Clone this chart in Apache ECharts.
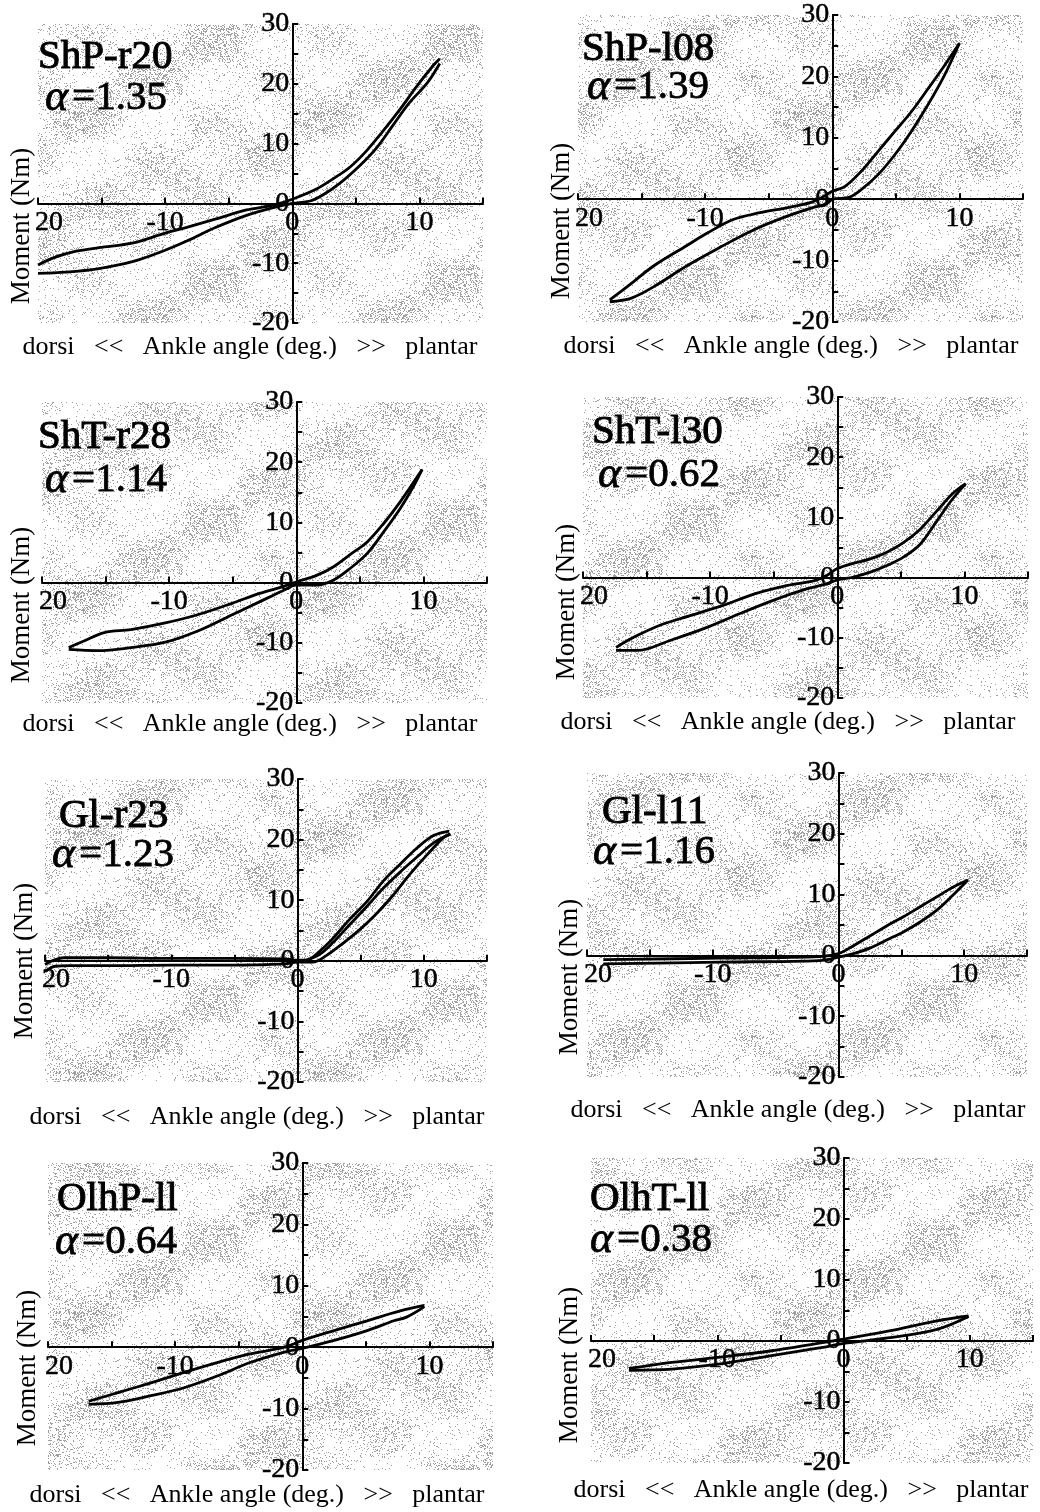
<!DOCTYPE html>
<html>
<head>
<meta charset="utf-8">
<script src="https://cdn.jsdelivr.net/npm/echarts@6/dist/echarts.min.js"></script>
<style>
  html, body { margin: 0; padding: 0; background: #fff; }
  #chart { width: 1040px; height: 1512px; }
</style>
</head>
<body>
<div id="chart"></div>
<script>
// panel labels
const panelNames = ['ShP-r20', 'ShP-l08', 'ShT-r28', 'ShT-l30', 'Gl-r23', 'Gl-l11', 'OlhP-ll', 'OlhT-ll'];
const alphaValues = ['1.35', '1.39', '1.14', '0.62', '1.23', '1.16', '0.64', '0.38'];

// tick labels (the -20 tick prints as "20" in the figure)
const xTickValues = [-20, -10, 0, 10];
const xTickTexts = ['20', '-10', '0', '10'];
const yTickValues = [-20, -10, 0, 10, 20, 30];
const yTickTexts = ['-20', '-10', '0', '10', '20', '30'];

// loops, [angle deg, moment Nm], each trace left -> right
const p1Top = [[-20, -10.3], [-18.8, -9.1], [-17.0, -8.0], [-15.2, -7.4], [-12.5, -6.6], [-10.2, -5.1], [-8.3, -4.0], [-6.0, -2.6], [-3.6, -1.1], [-1.5, -0.3], [0, 0.7], [1.9, 2.4], [3.2, 4.1], [4.5, 6.0], [5.8, 8.7], [7.1, 12.0], [8.5, 15.8], [9.8, 19.6], [11.1, 23.1], [11.6, 24.2]];
const p1Bottom = [[-20, -11.7], [-17.8, -11.5], [-15.2, -10.9], [-12.5, -9.7], [-10.2, -8.0], [-8.3, -6.3], [-6.0, -4.0], [-3.6, -2.0], [-1.5, -0.7], [0, 0], [1.4, 0.4], [2.4, 1.4], [3.7, 3.3], [5.3, 6.3], [6.6, 9.2], [7.9, 13.0], [9.2, 16.8], [10.6, 20.1], [11.6, 23.4]];

const p2Top = [[-17.5, -16.4], [-16.1, -14.2], [-14.0, -10.8], [-11.4, -7.5], [-9.9, -5.6], [-7.8, -3.3], [-5.7, -2.2], [-3.6, -1.4], [-1.8, -0.6], [-0.8, 0.3], [0, 1.3], [1.0, 2.1], [2.3, 4.6], [3.6, 7.8], [4.9, 11.0], [6.2, 14.2], [7.5, 17.9], [8.8, 21.7], [10.0, 25.4]];
const p2Bottom = [[-17.5, -16.7], [-15.8, -16.1], [-14.0, -14.2], [-11.4, -10.8], [-8.8, -7.8], [-6.2, -5.0], [-3.6, -2.8], [-1.6, -1.4], [-0.5, -0.8], [0, 0], [1.3, 0.3], [2.3, 1.6], [3.6, 4.0], [4.9, 7.2], [6.2, 11.0], [7.5, 15.3], [8.8, 20.1], [10.0, 25.4]];

const p3Top = [[-17.9, -10.8], [-16.7, -9.7], [-15.1, -8.3], [-13.0, -7.8], [-10.3, -6.7], [-7.7, -5.3], [-5.0, -3.4], [-2.9, -1.8], [-1.1, -0.7], [0, 0.1], [1.6, 1.2], [2.9, 2.6], [4.2, 4.6], [5.6, 6.8], [6.9, 9.9], [8.2, 13.5], [9.3, 16.9], [9.9, 18.8]];
const p3Bottom = [[-17.9, -11.1], [-15.6, -11.3], [-13.0, -10.8], [-10.3, -9.9], [-7.7, -8.0], [-5.0, -5.3], [-2.9, -3.2], [-1.1, -1.4], [0, -0.4], [1.6, -0.4], [2.9, 0.4], [4.2, 2.3], [5.6, 4.9], [6.9, 8.5], [8.2, 12.4], [9.3, 16.3], [9.9, 18.8]];

const p4Top = [[-17.4, -11.6], [-15.9, -9.8], [-13.8, -7.8], [-11.7, -6.4], [-9.1, -4.7], [-6.5, -2.7], [-3.9, -1.3], [-1.8, -0.5], [-0.8, 0.4], [0, 1.5], [1.3, 2.4], [2.6, 3.1], [3.9, 4.2], [5.2, 5.8], [6.5, 8.0], [7.8, 11.0], [9.1, 14.0], [10.1, 15.6]];
const p4Bottom = [[-17.4, -12.1], [-15.7, -12.1], [-13.1, -10.4], [-10.4, -8.4], [-7.8, -6.1], [-5.2, -3.9], [-2.6, -2.0], [-0.8, -1.0], [0, -0.4], [1.3, 0.1], [2.6, 0.9], [3.9, 2.0], [5.2, 3.4], [6.5, 5.5], [7.8, 9.3], [8.9, 12.6], [10.1, 15.6]];

const p5Top = [[-20, -0.6], [-19.3, 0.1], [-18.5, 0.5], [-15, 0.5], [-10, 0.4], [-5, 0.4], [-1, 0.3], [0, 0.1], [0.7, 0.1], [1.7, 1.5], [2.8, 3.7], [4.1, 6.8], [5.5, 9.8], [6.8, 13.2], [8.1, 15.9], [9.5, 18.7], [10.8, 20.7], [12.0, 21.4]];
const p5Mid = [[0.5, 0], [1.7, 1.0], [2.8, 3.0], [4.1, 5.9], [5.5, 9.0], [6.8, 12.0], [8.1, 14.6], [9.5, 17.2], [10.8, 19.5], [12.1, 20.9]];
const p5Bottom = [[-20, -1.8], [-19.2, -0.9], [-18, -0.8], [-15, -0.8], [-10, -0.7], [-5, -0.7], [-1, -0.5], [0, -0.2], [1.2, -0.2], [2.3, 0.9], [3.6, 2.9], [4.9, 5.1], [6.3, 7.9], [7.6, 10.9], [8.9, 14.3], [10.3, 17.6], [11.6, 20.4], [12.1, 20.9]];

const p6Top = [[-18.7, -0.7], [-9.4, -0.45], [-1.5, -0.2], [0, 0.3], [1.2, 1.6], [2.5, 3.2], [3.8, 4.8], [5.2, 6.4], [6.5, 8.0], [7.8, 9.6], [9.1, 11.2], [10.3, 12.4]];
const p6Bottom = [[-18.7, -1.4], [-9.4, -1.1], [-1.5, -0.85], [0, -0.3], [1.2, 0.3], [2.5, 1.2], [3.8, 2.5], [5.2, 3.9], [6.5, 5.5], [7.8, 7.4], [9.1, 9.9], [10.3, 12.4]];

const p7Top = [[-16.8, -8.8], [-14.5, -7.4], [-11.9, -5.8], [-9.3, -4.1], [-6.7, -2.5], [-4.1, -1.1], [-1.4, 0], [0, 1.1], [2.5, 2.7], [5.1, 4.3], [7.7, 5.9], [9.6, 6.8]];
const p7Bottom = [[-16.8, -9.3], [-14.5, -9.0], [-11.9, -7.9], [-9.3, -6.6], [-6.7, -4.7], [-4.1, -2.5], [-1.4, -0.8], [0, -0.2], [2.5, 1.1], [5.1, 2.7], [7.2, 4.3], [8.2, 4.9], [9.6, 6.6]];

const p8Top = [[-17.0, -4.5], [-13.6, -3.5], [-9.6, -2.6], [-5.7, -1.6], [-1.8, -0.3], [0, 0.3], [3.5, 1.6], [7.4, 3.3], [9.9, 4.1]];
const p8Bottom = [[-17.0, -4.8], [-13.6, -4.6], [-9.6, -3.7], [-5.7, -2.4], [-1.8, -1.1], [0, -0.4], [3.5, 0.5], [7.4, 1.9], [9.9, 4.0]];

const panelTraces = [
  [p1Top, p1Bottom], [p2Top, p2Bottom], [p3Top, p3Bottom], [p4Top, p4Bottom],
  [p5Top, p5Mid, p5Bottom], [p6Top, p6Bottom], [p7Top, p7Bottom], [p8Top, p8Bottom]
];

const X_MIN = -20, X_MAX = 15, Y_MIN = -20, Y_MAX = 30;

// layout: plot boxes [left, top, width, height]
const boxes = [
  [38, 24, 445, 299], [578, 15, 445, 307],
  [42, 402, 445, 301], [583, 397, 445, 301],
  [45, 779, 442, 303], [587, 773, 440, 304],
  [48, 1163, 445, 307], [591, 1158, 442, 305]
];
// title [x, midY line1, x2, midY line2], y-name [x, y], x-name [x, y]
const titlePos = [
  [38, 57, 45, 98], [582, 49, 587, 87], [38, 437, 45, 480], [592, 432, 598, 475],
  [59, 816, 52, 855], [602, 812, 593, 852], [57, 1199, 55, 1242], [590, 1199, 590, 1240]
];
const yNamePos = [[22, 226], [562, 221], [22, 605], [567, 602], [25, 961], [570, 977], [28, 1368], [570, 1365]];
const xNamePos = [[250, 347], [791, 346], [250, 724], [788, 722], [257, 1117], [798, 1110], [257, 1495], [801, 1490]];

const FONT = '"Liberation Serif", "Times New Roman", serif';

// grey speckle like the scanned screen tone
function makeSpeckle() {
  const size = 240;
  const c = document.createElement('canvas');
  c.width = size; c.height = size;
  const ctx = c.getContext('2d');
  const img = ctx.createImageData(size, size);
  for (let y = 0; y < size; y++) {
    for (let x = 0; x < size; x++) {
      const blob = Math.sin(x * 2 * Math.PI / 120) * Math.cos(y * 2 * Math.PI / 80)
        + 0.6 * Math.sin((x + 2 * y) * 2 * Math.PI / 240);
      const dens = Math.max(0.04, Math.min(0.34, 0.14 + 0.16 * blob));
      let h = Math.sin(x * 12.9898 + y * 78.233) * 43758.5453;
      h = h - Math.floor(h);
      const i = (y * size + x) * 4;
      if (h < dens) {
        img.data[i] = img.data[i + 1] = img.data[i + 2] = 160;
        img.data[i + 3] = 255;
      }
    }
  }
  ctx.putImageData(img, 0, 0);
  return c;
}
const speckle = makeSpeckle();

function xLabel(v) {
  const k = xTickValues.indexOf(v);
  if (k < 0) return '';
  return v === -20 ? '{shift|' + xTickTexts[k] + '}' : xTickTexts[k];
}
function yLabel(v) {
  const k = yTickValues.indexOf(v);
  return k < 0 ? '' : yTickTexts[k];
}

const axisLine = { onZero: false, lineStyle: { color: '#000', width: 2 } };
const axisTick = { inside: true, length: 6, lineStyle: { color: '#000', width: 2 } };
const labelFont = { color: '#000', fontFamily: FONT, fontSize: 28, textBorderColor: '#000', textBorderWidth: 0.5 };

const grid = [], xAxis = [], yAxis = [], series = [], graphic = [];
boxes.forEach((b, i) => {
  // axes cross at the origin: shift them in from the grid edges
  const yShift = b[2] * (0 - X_MIN) / (X_MAX - X_MIN);
  const xShift = b[3] * (0 - Y_MIN) / (Y_MAX - Y_MIN);
  grid.push({
    left: b[0], top: b[1], width: b[2], height: b[3],
    show: true, borderWidth: 0,
    backgroundColor: { image: speckle, repeat: 'repeat' }
  });
  xAxis.push({
    type: 'value', gridIndex: i, min: X_MIN, max: X_MAX, interval: 5,
    position: 'bottom', offset: -xShift,
    axisLine, axisTick, splitLine: { show: false },
    axisLabel: Object.assign({
      margin: 5, formatter: xLabel,
      rich: { shift: Object.assign({ padding: [0, 0, 0, 22] }, labelFont) }
    }, labelFont)
  });
  yAxis.push({
    type: 'value', gridIndex: i, min: Y_MIN, max: Y_MAX, interval: 5,
    position: 'left', offset: -yShift,
    axisLine, axisTick, splitLine: { show: false },
    axisLabel: Object.assign({ margin: 3, formatter: yLabel }, labelFont)
  });
  panelTraces[i].forEach(trace => {
    series.push({
      type: 'line', xAxisIndex: i, yAxisIndex: i, data: trace,
      showSymbol: false, smooth: 0.35, clip: true,
      lineStyle: { color: '#000', width: 2.8 }
    });
  });

  const t = titlePos[i];
  graphic.push({
    type: 'text', x: t[0], y: t[1],
    style: { text: panelNames[i], fontFamily: FONT, fontSize: 41, fill: '#000', stroke: '#000', lineWidth: 1,
      align: 'left', verticalAlign: 'middle' }
  });
  graphic.push({
    type: 'text', x: t[2], y: t[3],
    style: {
      text: '{a|α}=' + alphaValues[i], fontFamily: FONT, fontSize: 41, fill: '#000', stroke: '#000', lineWidth: 0.8,
      align: 'left', verticalAlign: 'middle',
      rich: { a: { fontFamily: FONT, fontSize: 44, fontStyle: 'italic', fill: '#000', padding: [0, 4, 0, 0] } }
    }
  });
  graphic.push({
    type: 'text', x: yNamePos[i][0], y: yNamePos[i][1], rotation: Math.PI / 2,
    style: { text: 'Moment (Nm)', fontFamily: FONT, fontSize: 27, fill: '#000', align: 'center', verticalAlign: 'middle' }
  });
  graphic.push({
    type: 'text', x: xNamePos[i][0], y: xNamePos[i][1],
    style: { text: 'dorsi   <<   Ankle angle (deg.)   >>   plantar', fontFamily: FONT, fontSize: 26, fill: '#000', align: 'center', verticalAlign: 'middle' }
  });
});

const chart = echarts.init(document.getElementById('chart'));
chart.setOption({
  backgroundColor: '#fff',
  animation: false,
  grid, xAxis, yAxis, series, graphic
});
</script>
</body>
</html>
